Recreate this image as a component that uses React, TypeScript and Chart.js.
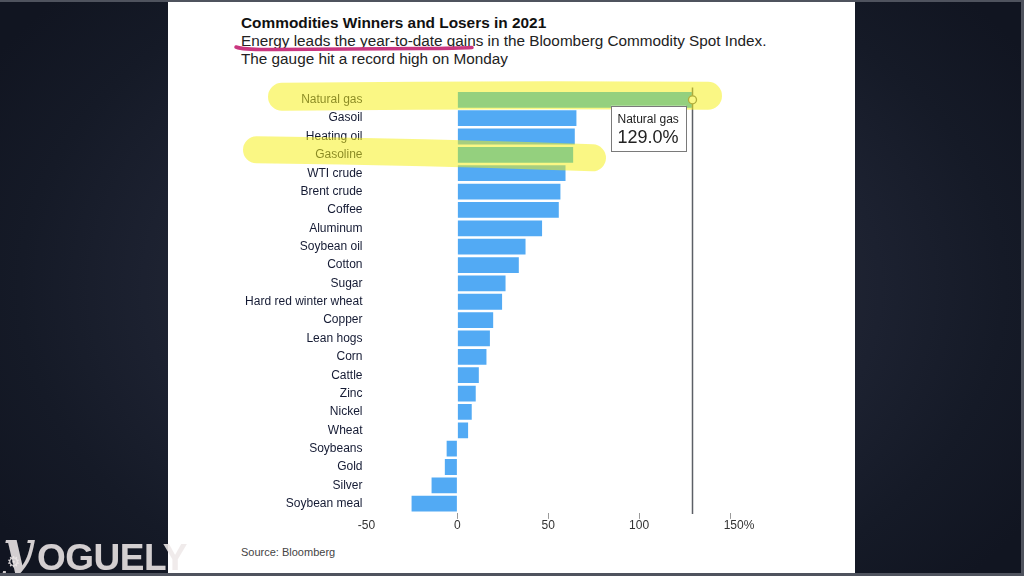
import React, { useEffect, useRef } from "react";
import { Chart, registerables } from "chart.js";

Chart.register(...registerables);

const categories = [
  "Natural gas", "Gasoil", "Heating oil", "Gasoline", "WTI crude", "Brent crude",
  "Coffee", "Aluminum", "Soybean oil", "Cotton", "Sugar", "Hard red winter wheat",
  "Copper", "Lean hogs", "Corn", "Cattle", "Zinc", "Nickel", "Wheat", "Soybeans",
  "Gold", "Silver", "Soybean meal",
];
const ytdChange = [
  129.0, 65.5, 64.6, 63.7, 59.5, 56.7, 55.8, 46.6, 37.5, 33.8, 26.5, 24.6,
  19.7, 17.9, 16.0, 11.8, 10.1, 7.9, 5.9, -5.9, -6.9, -14.2, -25.2,
];
const xTicks = [-50, 0, 50, 100, 150];
const highlighted = ["Natural gas", "Gasoline"];
const tooltipCategory = "Natural gas";

const FONT = "'Liberation Sans', Arial, Helvetica, sans-serif";

// hand-drawn highlighter strokes (per highlighted category)
const strokeShapes: Record<string, { x1: number; x2: number; dy1: number; dy2: number; w: number }> = {
  "Natural gas": { x1: 268, x2: 722, dy1: -3, dy2: -4, w: 28 },
  Gasoline: { x1: 243, x2: 606, dy1: -5, dy2: 3, w: 27 },
};

const overlayPlugin = {
  id: "overlay",
  afterDraw(chart: any) {
    const { ctx, chartArea, scales } = chart;
    const xs = scales.x;
    const ys = scales.y;
    const idx = categories.indexOf(tooltipCategory);
    const val = ytdChange[idx];
    const lx = Math.round(xs.getPixelForValue(val)) + 0.5;
    const ly = ys.getPixelForValue(idx);
    ctx.save();
    // reference line
    ctx.strokeStyle = "#5c5f66";
    ctx.lineWidth = 1.5;
    ctx.beginPath();
    ctx.moveTo(lx, chartArea.top - 3);
    ctx.lineTo(lx, chartArea.bottom + 1);
    ctx.stroke();
    ctx.beginPath();
    ctx.arc(lx, ly, 4, 0, Math.PI * 2);
    ctx.fillStyle = "#ffffff";
    ctx.fill();
    ctx.lineWidth = 1.3;
    ctx.strokeStyle = "#666";
    ctx.stroke();

    // highlighter
    highlighted.forEach((cat) => {
      const s = strokeShapes[cat];
      if (!s) return;
      const cy = ys.getPixelForValue(categories.indexOf(cat));
      ctx.save();
      ctx.globalAlpha = 0.52;
      ctx.strokeStyle = "rgb(246,240,20)";
      ctx.lineWidth = s.w;
      ctx.lineCap = "round";
      ctx.beginPath();
      const a = s.x1 + s.w / 2;
      const b = s.x2 - s.w / 2;
      ctx.moveTo(a, cy + s.dy1);
      ctx.quadraticCurveTo((a + b) / 2, cy + (s.dy1 + s.dy2) / 2 - 2, b, cy + s.dy2);
      ctx.stroke();
      ctx.restore();
    });

    // tooltip box
    const bx = lx - 81.5;
    const by = ly + 6;
    ctx.fillStyle = "#ffffff";
    ctx.fillRect(bx, by, 75, 45.5);
    ctx.strokeStyle = "#7a7a7a";
    ctx.lineWidth = 1;
    ctx.strokeRect(Math.round(bx) + 0.5, Math.round(by) + 0.5, 75, 45);
    ctx.fillStyle = "#222";
    ctx.textAlign = "left";
    ctx.textBaseline = "alphabetic";
    ctx.font = `12px ${FONT}`;
    ctx.fillText(tooltipCategory, bx + 6.5, ly + 23);
    ctx.font = `18px ${FONT}`;
    ctx.fillText(`${val.toFixed(1)}%`, bx + 6.5, ly + 43);

    // magenta underline under subtitle
    ctx.strokeStyle = "#c9367f";
    ctx.lineWidth = 3.5;
    ctx.lineCap = "round";
    ctx.beginPath();
    ctx.moveTo(236, 47);
    ctx.quadraticCurveTo(244, 50, 275, 49.5);
    ctx.lineTo(420, 48.6);
    ctx.quadraticCurveTo(460, 48.2, 472, 47.5);
    ctx.stroke();
    ctx.restore();
  },
};

export default function App() {
  const ref = useRef<HTMLCanvasElement>(null);

  useEffect(() => {
    const chart = new Chart(ref.current as HTMLCanvasElement, {
      type: "bar",
      data: {
        labels: categories,
        datasets: [
          {
            data: ytdChange,
            backgroundColor: (c: any) =>
              highlighted.includes(categories[c.dataIndex]) ? "#2aaef2" : "#52aaf4",
            borderWidth: 0,
            barPercentage: 0.86,
            categoryPercentage: 1,
          },
        ],
      },
      options: {
        indexAxis: "y",
        animation: false,
        responsive: true,
        maintainAspectRatio: false,
        events: [],
        layout: { padding: { left: 236.5, right: 294, top: 90.6, bottom: 41.1 } },
        plugins: {
          legend: { display: false },
          tooltip: { enabled: false },
          title: { display: false },
        },
        scales: {
          x: {
            type: "linear",
            min: -50,
            max: 150,
            afterBuildTicks: (s: any) => {
              s.ticks = xTicks.map((v) => ({ value: v }));
            },
            afterFit: (s: any) => {
              s.height = 22;
            },
            ticks: {
              autoSkip: false,
              maxRotation: 0,
              padding: 0,
              color: "#333",
              font: { family: FONT, size: 12 },
              callback: (v: any) => (Number(v) === 150 ? "\u2003\u2002150%" : String(v)),
            },
            grid: {
              drawOnChartArea: false,
              drawTicks: true,
              tickLength: 6,
              lineWidth: 1,
              color: (c: any) => (c.tick && c.tick.value === -50 ? "rgba(0,0,0,0)" : "#9a9a9a"),
            },
            border: { display: false },
          },
          y: {
            afterFit: (s: any) => {
              s.width = 130;
            },
            ticks: {
              autoSkip: false,
              padding: 4,
              color: "#141a33",
              font: { family: FONT, size: 12 },
            },
            grid: { display: false, drawTicks: false },
            border: { display: false },
          },
        },
      },
      plugins: [overlayPlugin],
    });
    return () => chart.destroy();
  }, []);

  return (
    <div
      style={{
        position: "fixed",
        left: 0,
        top: 0,
        width: 1024,
        height: 576,
        overflow: "hidden",
        background:
          "radial-gradient(ellipse 60% 75% at 50% 50%, #30343f 0%, #262a36 35%, #1c2130 60%, #151a27 80%, #111521 100%)",
        fontFamily: FONT,
      }}
    >
      <div style={{ position: "absolute", left: 168, top: 0, width: 687, height: 576, background: "#ffffff" }} />
      <div
        style={{
          position: "absolute",
          left: 241,
          top: 15,
          fontSize: 15.4,
          lineHeight: "15.4px",
          fontWeight: 700,
          color: "#111",
          whiteSpace: "nowrap",
        }}
      >
        Commodities Winners and Losers in 2021
      </div>
      <div
        style={{
          position: "absolute",
          left: 241,
          top: 32,
          fontSize: 15.3,
          lineHeight: "17.5px",
          color: "#222",
          whiteSpace: "nowrap",
        }}
      >
        Energy leads the year-to-date gains in the Bloomberg Commodity Spot Index.
        <br />
        The gauge hit a record high on Monday
      </div>
      <div
        style={{
          position: "absolute",
          left: 241,
          top: 547.2,
          fontSize: 11,
          lineHeight: "11px",
          color: "#444",
          whiteSpace: "nowrap",
        }}
      >
        Source: Bloomberg
      </div>
      <div style={{ position: "absolute", left: 0, top: 0, width: 1024, height: 576 }}>
        <canvas ref={ref} />
      </div>
      <div
        style={{
          position: "absolute",
          left: 3,
          top: 524,
          fontSize: 50,
          lineHeight: "50px",
          fontFamily: "'DejaVu Serif', serif",
          fontStyle: "italic",
          fontWeight: 700,
          color: "rgba(238,232,232,0.88)",
        }}
      >
        y
      </div>
      <div
        style={{
          position: "absolute",
          left: 7,
          top: 555,
          fontSize: 15,
          lineHeight: "15px",
          fontFamily: "'DejaVu Sans', sans-serif",
          color: "rgba(238,232,232,0.88)",
        }}
      >
        ⚙
      </div>
      <div
        style={{
          position: "absolute",
          left: 37,
          top: 538.7,
          fontSize: 37,
          lineHeight: "37px",
          fontWeight: 700,
          letterSpacing: -0.5,
          color: "rgba(238,232,232,0.88)",
          whiteSpace: "nowrap",
        }}
      >
        OGUELY
      </div>
      <div
        style={{
          position: "absolute",
          left: 0,
          top: 0,
          width: 1024,
          height: 576,
          boxSizing: "border-box",
          borderTop: "2px solid #4f535e",
          borderBottom: "3px solid #4f535e",
          borderRight: "3px solid #4f535e",
          pointerEvents: "none",
        }}
      />
    </div>
  );
}
